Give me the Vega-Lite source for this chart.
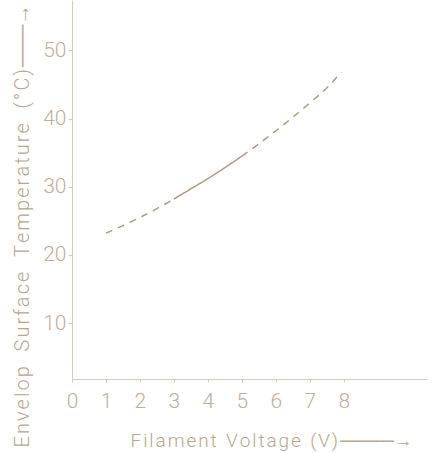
{
  "$schema": "https://vega.github.io/schema/vega-lite/v6.json",
  "width": 355,
  "height": 379,
  "autosize": "none",
  "padding": {"left": 72, "top": 0, "right": 6, "bottom": 74},
  "background": "white",
  "config": {
    "view": {"stroke": null},
    "font": "Roboto",
    "axis": {
      "grid": false,
      "domainColor": "#d6cbbb",
      "domainWidth": 1,
      "tickColor": "#d6cbbb",
      "labelColor": "#bfae98",
      "titleColor": "#b8a68e",
      "labelFont": "Roboto",
      "titleFont": "Roboto",
      "labelFontWeight": 300,
      "titleFontWeight": 300,
      "labelFlush": false
    }
  },
  "data": {
    "values": [
      {"voltage": 1.0, "temp": 23.2, "seg": "a", "style": "dashed"},
      {"voltage": 1.5, "temp": 24.3, "seg": "a", "style": "dashed"},
      {"voltage": 2.0, "temp": 25.5, "seg": "a", "style": "dashed"},
      {"voltage": 2.5, "temp": 26.8, "seg": "a", "style": "dashed"},
      {"voltage": 3.0, "temp": 28.2, "seg": "a", "style": "dashed"},
      {"voltage": 3.0, "temp": 28.2, "seg": "b", "style": "solid"},
      {"voltage": 3.5, "temp": 29.7, "seg": "b", "style": "solid"},
      {"voltage": 4.0, "temp": 31.2, "seg": "b", "style": "solid"},
      {"voltage": 4.5, "temp": 32.8, "seg": "b", "style": "solid"},
      {"voltage": 5.0, "temp": 34.5, "seg": "b", "style": "solid"},
      {"voltage": 5.0, "temp": 34.5, "seg": "c", "style": "dashed"},
      {"voltage": 5.5, "temp": 36.3, "seg": "c", "style": "dashed"},
      {"voltage": 6.0, "temp": 38.2, "seg": "c", "style": "dashed"},
      {"voltage": 6.5, "temp": 40.2, "seg": "c", "style": "dashed"},
      {"voltage": 7.0, "temp": 42.3, "seg": "c", "style": "dashed"},
      {"voltage": 7.5, "temp": 44.5, "seg": "c", "style": "dashed"},
      {"voltage": 7.93, "temp": 46.8, "seg": "c", "style": "dashed"}
    ]
  },
  "mark": {"type": "line", "color": "#b09a80", "strokeWidth": 1.5, "interpolate": "monotone"},
  "encoding": {
    "x": {
      "field": "voltage",
      "type": "quantitative",
      "scale": {"domain": [0, 10.45], "nice": false, "zero": false},
      "axis": {
        "values": [0, 1, 2, 3, 4, 5, 6, 7, 8],
        "tickSize": 3,
        "labelFontSize": 21,
        "labelPadding": 8,
        "title": "F\u200ai\u200al\u200aa\u200am\u200ae\u200an\u200at\u00a0\u00a0V\u200ao\u200al\u200at\u200aa\u200ag\u200ae\u00a0\u00a0(\u200aV\u200a)\u200a────→",
        "titleFontSize": 19,
        "titleAnchor": null,
        "titleAlign": "left",
        "titleBaseline": "middle",
        "titleX": 58,
        "titleY": 61
      }
    },
    "y": {
      "field": "temp",
      "type": "quantitative",
      "scale": {"domain": [1.8, 57.4], "nice": false, "zero": false},
      "axis": {
        "values": [10, 20, 30, 40, 50],
        "tickSize": 4,
        "labelFontSize": 21,
        "labelPadding": 2,
        "title": "E\u200an\u200av\u200ae\u200al\u200ao\u200ap\u00a0\u00a0\u00a0S\u200au\u200ar\u200af\u200aa\u200ac\u200ae\u00a0\u00a0\u00a0T\u200ae\u200am\u200ap\u200ae\u200ar\u200aa\u200at\u200au\u200ar\u200ae\u00a0\u00a0\u00a0(\u200a°\u200aC\u200a)\u200a───→",
        "titleFontSize": 20,
        "titleAnchor": null,
        "titleAngle": 270,
        "titleAlign": "left",
        "titleBaseline": "middle",
        "titleX": -50,
        "titleY": 447
      }
    },
    "detail": {"field": "seg"},
    "strokeDash": {
      "field": "style",
      "type": "nominal",
      "scale": {"domain": ["dashed", "solid"], "range": [[7, 6], [1, 0]]},
      "legend": null
    }
  }
}
